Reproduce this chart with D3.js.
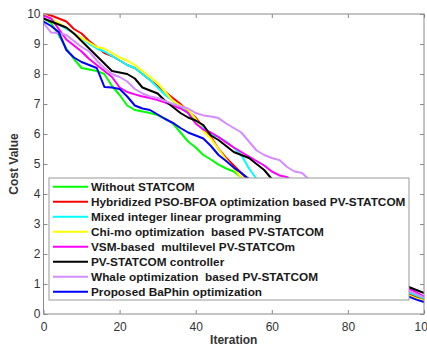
<!DOCTYPE html>
<html>
<head>
<meta charset="utf-8">
<script src="https://cdn.jsdelivr.net/npm/d3@7"></script>
<style>
  body { margin: 0; background: #fff; }
  svg { display: block; font-family: "Liberation Sans", Arial, sans-serif; }
</style>
</head>
<body>
<div id="chart"></div>
<script>
// iterations sampled every 2 steps
const iterations = d3.range(0, 101, 2);

const withoutStatcom = [9.85,9.7,9.3,8.85,8.5,8.2,8.15,8.1,8.0,7.6,7.3,6.95,6.8,6.75,6.7,6.63,6.5,6.35,6.05,5.75,5.55,5.3,5.15,4.98,4.85,4.75,4.55,4.3,4.1,3.85,3.6,3.4,3.2,3.0,2.8,2.6,2.45,2.3,2.1,1.95,1.8,1.65,1.5,1.38,1.25,1.1,0.95,0.82,0.68,0.58,0.48];
const psoBfoa = [10.0,9.95,9.85,9.75,9.5,9.35,9.1,8.9,8.7,8.6,8.45,8.3,8.2,8.0,7.8,7.6,7.4,7.2,7.0,6.75,6.55,6.2,5.9,5.5,5.2,4.95,4.7,4.45,4.2,3.95,3.7,3.5,3.3,3.1,2.9,2.7,2.5,2.35,2.2,2.05,1.9,1.75,1.6,1.45,1.3,1.15,1.0,0.8,0.65,0.55,0.46];
const milp = [10.0,9.85,9.65,9.5,9.35,9.2,9.0,8.85,8.75,8.6,8.45,8.3,8.2,8.0,7.8,7.55,7.3,7.1,6.9,6.7,6.45,6.2,6.0,5.9,5.75,5.55,5.3,4.85,4.5,4.2,3.95,3.7,3.45,3.25,3.05,2.85,2.65,2.45,2.3,2.1,1.95,1.8,1.65,1.5,1.35,1.2,1.05,0.9,0.72,0.62,0.52];
const chiMo = [10.0,9.85,9.7,9.55,9.35,9.2,9.05,8.9,8.85,8.7,8.55,8.45,8.3,8.1,7.9,7.7,7.4,7.1,6.95,6.8,6.5,6.1,5.85,5.5,5.15,4.85,4.55,4.3,4.05,3.8,3.55,3.35,3.15,2.95,2.75,2.55,2.4,2.25,2.1,1.95,1.8,1.65,1.5,1.35,1.2,1.05,0.92,0.78,0.62,0.52,0.44];
const vsm = [9.95,9.85,9.5,9.15,8.95,8.75,8.5,8.3,8.1,7.9,7.55,7.4,7.32,7.25,7.2,7.13,7.05,6.95,6.85,6.7,6.35,6.15,6.05,5.9,5.72,5.55,5.4,5.25,5.1,4.95,4.75,4.62,4.57,4.35,4.1,3.85,3.6,3.35,3.1,2.85,2.6,2.4,2.2,2.0,1.8,1.6,1.4,1.2,0.85,0.72,0.58];
const pvStatcom = [9.85,9.75,9.65,9.55,9.35,9.1,8.85,8.6,8.35,8.1,8.05,8.0,7.85,7.55,7.45,7.35,7.1,6.9,6.7,6.55,6.45,6.3,5.95,5.8,5.6,5.4,5.3,5.2,5.0,4.8,4.5,4.2,3.95,3.7,3.45,3.2,3.0,2.8,2.6,2.4,2.2,2.0,1.85,1.7,1.55,1.4,1.25,1.1,0.9,0.8,0.7];
const whale = [9.7,9.38,9.37,9.3,9.1,8.9,8.75,8.45,8.2,8.0,7.9,7.75,7.5,7.35,7.25,7.2,7.1,7.0,6.92,6.85,6.7,6.62,6.58,6.53,6.35,6.2,6.05,5.75,5.45,5.3,5.2,5.13,4.9,4.75,4.7,4.45,4.2,3.9,3.55,3.2,2.9,2.6,2.3,2.0,1.75,1.5,1.25,1.0,0.78,0.66,0.55];
const baPhin = [9.75,9.6,9.4,8.8,8.55,8.4,8.3,8.2,7.57,7.55,7.5,7.25,6.95,6.85,6.8,6.65,6.5,6.37,6.2,6.05,5.95,5.85,5.6,5.3,5.1,4.88,4.7,4.5,4.3,4.05,3.8,3.55,3.3,3.1,2.9,2.7,2.5,2.3,2.1,1.9,1.7,1.55,1.4,1.25,1.1,0.95,0.82,0.7,0.58,0.48,0.4];

const seriesNames = [
  "Without STATCOM",
  "Hybridized PSO-BFOA optimization based PV-STATCOM",
  "Mixed integer linear programming",
  "Chi-mo optimization  based PV-STATCOM",
  "VSM-based  multilevel PV-STATCOm",
  "PV-STATCOM controller",
  "Whale optimization  based PV-STATCOM",
  "Proposed BaPhin optimization"
];
const seriesValues = [withoutStatcom, psoBfoa, milp, chiMo, vsm, pvStatcom, whale, baPhin];
const seriesColors = ["#00ff00", "#ff0000", "#00ffff", "#ffff00", "#ff00ff", "#000000", "#d58cff", "#0000ff"];

const xTicks = [0, 20, 40, 60, 80, 100];
const yTicks = [0, 1, 2, 3, 4, 5, 6, 7, 8, 9, 10];

const size = { width: 427, height: 347 };
const margin = { top: 14, right: 3, bottom: 33, left: 43.5 };
const plotW = size.width - margin.left - margin.right;
const plotH = size.height - margin.top - margin.bottom;

const svg = d3.select("#chart")
  .append("svg")
  .attr("width", size.width)
  .attr("height", size.height);

const g = svg.append("g")
  .attr("transform", "translate(" + margin.left + "," + margin.top + ")");

const x = d3.scaleLinear().domain([0, 100]).range([0, plotW]);
const y = d3.scaleLinear().domain([0, 10]).range([plotH, 0]);

const axisColor = "#8a8a8a";
const textColor = "#333";

function styleAxis(sel, showText) {
  sel.select(".domain").remove();
  sel.selectAll(".tick line").attr("stroke", axisColor);
  sel.selectAll(".tick text")
    .attr("fill", textColor)
    .style("font-size", "12px")
    .style("display", showText ? null : "none");
}

g.append("g")
  .attr("transform", "translate(0," + plotH + ")")
  .call(d3.axisBottom(x).tickValues(xTicks).tickSize(-4).tickPadding(8))
  .call(styleAxis, true);

g.append("g")
  .call(d3.axisTop(x).tickValues(xTicks).tickSize(-4))
  .call(styleAxis, false);

g.append("g")
  .call(d3.axisLeft(y).tickValues(yTicks).tickSize(-4).tickPadding(3))
  .call(styleAxis, true);

g.append("g")
  .attr("transform", "translate(" + plotW + ",0)")
  .call(d3.axisRight(y).tickValues(yTicks).tickSize(-4))
  .call(styleAxis, false);

// lines
const line = d3.line()
  .x(function(d, i) { return x(iterations[i]); })
  .y(function(d) { return y(d); });

g.selectAll(".series")
  .data(seriesValues)
  .enter().append("path")
  .attr("class", "series")
  .attr("fill", "none")
  .attr("stroke", function(d, i) { return seriesColors[i]; })
  .attr("stroke-width", 2)
  .attr("stroke-linejoin", "round")
  .attr("d", line);

// box
g.append("rect")
  .attr("width", plotW)
  .attr("height", plotH)
  .attr("fill", "none")
  .attr("stroke", axisColor)
  .attr("stroke-width", 1);

// axis labels
svg.append("text")
  .attr("x", margin.left + plotW / 2)
  .attr("y", 344)
  .attr("text-anchor", "middle")
  .attr("fill", textColor)
  .style("font-size", "12px")
  .style("font-weight", "bold")
  .text("Iteration");

svg.append("text")
  .attr("transform", "translate(18," + (margin.top + plotH / 2) + ") rotate(-90)")
  .attr("text-anchor", "middle")
  .attr("fill", textColor)
  .style("font-size", "12px")
  .style("font-weight", "bold")
  .text("Cost Value");

// legend
const legend = svg.append("g").attr("transform", "translate(49,178)");
legend.append("rect")
  .attr("width", 360)
  .attr("height", 122)
  .attr("fill", "#fff")
  .attr("stroke", "#999")
  .attr("stroke-width", 1);

const item = legend.selectAll(".item")
  .data(seriesNames)
  .enter().append("g")
  .attr("transform", function(d, i) { return "translate(0," + (8.7 + i * 15) + ")"; });

item.append("line")
  .attr("x1", 4).attr("x2", 39)
  .attr("stroke", function(d, i) { return seriesColors[i]; })
  .attr("stroke-width", 2);

item.append("text")
  .attr("x", 42)
  .attr("dy", "0.35em")
  .attr("fill", "#1a1a1a")
  .style("font-size", "11.8px")
  .style("font-weight", "bold")
  .style("white-space", "pre")
  .text(function(d) { return d; });
</script>
</body>
</html>
